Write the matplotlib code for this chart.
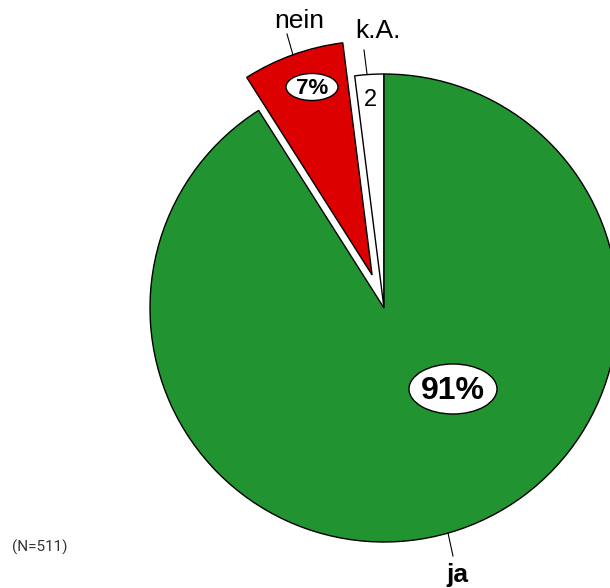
import matplotlib.pyplot as plt
from matplotlib.patches import Ellipse

# Anteile in Prozent
labels = ["k.A.", "nein", "ja"]
values = [2, 7, 91]
value_text = ["2", "7%", "91%"]
colors = ["#ffffff", "#dc0000", "#229331"]
explode = [0, 0.15, 0]

W, H = 610, 588
CX, CY, R = 384, 308, 234


def px(x, y):
    # Pixelposition -> Datenkoordinaten (Radius 1)
    return (x - CX) / R, (CY - y) / R


plt.rcParams['font.family'] = ['Liberation Sans', 'DejaVu Sans']

fig = plt.figure(figsize=(W / 100, H / 100), dpi=100)
ax = fig.add_axes([0, 0, 1, 1])
ax.pie(values, colors=colors, explode=explode, startangle=90, counterclock=True,
       radius=1, wedgeprops=dict(edgecolor="black", linewidth=1))
ax.set_xlim(-CX / R, (W - CX) / R)
ax.set_ylim(-(H - CY) / R, CY / R)
ax.set_aspect("equal")
ax.axis("off")

# Werte in den Segmenten
ax.text(*px(370, 100), value_text[0], fontsize=17, ha="center", va="center")
ax.add_patch(Ellipse(px(312, 87), 52 / R, 27 / R, fc="white", ec="black", lw=1, zorder=3))
ax.text(*px(312, 88), value_text[1], fontsize=16, fontweight="bold", ha="center", va="center", zorder=4)
ax.add_patch(Ellipse(px(453, 389), 88 / R, 50 / R, fc="white", ec="black", lw=1, zorder=3))
ax.text(*px(453, 391), value_text[2], fontsize=23, fontweight="bold", ha="center", va="center", zorder=4)

# Beschriftungen mit Linien
for (x0, y0, x1, y1) in [(293, 55, 287, 34), (367, 74, 364, 50), (448, 533, 453, 556)]:
    ax.plot([px(x0, y0)[0], px(x1, y1)[0]], [px(x0, y0)[1], px(x1, y1)[1]], color="black", lw=0.8)
ax.text(*px(299, 21), labels[1], fontsize=19, ha="center", va="center")
ax.text(*px(378, 31), labels[0], fontsize=19, ha="center", va="center")
ax.text(*px(457, 575), labels[2], fontsize=19, fontweight="bold", ha="center", va="center")

ax.text(*px(12, 547), "(N=511)", fontsize=11, color="#333333", ha="left", va="center",
        family=["Roboto", "DejaVu Sans"])

fig.savefig("out.png", dpi=100)
